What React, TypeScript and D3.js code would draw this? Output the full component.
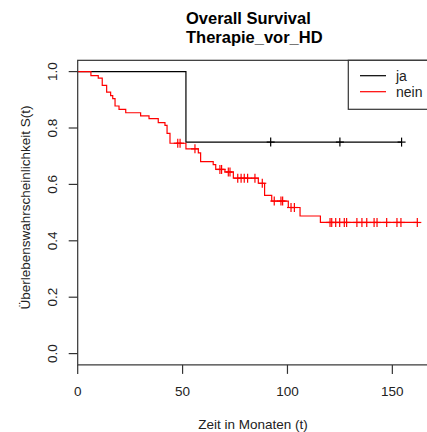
import React from 'react';
import * as d3 from 'd3';

const W = 427;
const H = 432;

// Gruppe "ja"
const jaEventTimes = [51.6];
const jaSurv = [0.75];
const jaCensorTimes = [92.0, 125.0, 154.4];

// Gruppe "nein"
const neinEventTimes = [6.3, 9.8, 11.7, 13.8, 15.7, 16.7, 17.8, 19.7, 22.9, 30.0, 34.0, 38.4, 41.6, 42.6, 44.0, 51.6, 57.5, 58.6, 64.6, 65.8, 70.2, 74.2, 86.1, 89.1, 92.5, 100.4, 106.0, 115.7];
const neinSurv = [0.986, 0.977, 0.951, 0.927, 0.915, 0.904, 0.878, 0.866, 0.854, 0.843, 0.833, 0.819, 0.809, 0.781, 0.746, 0.726, 0.712, 0.681, 0.670, 0.653, 0.644, 0.622, 0.604, 0.561, 0.541, 0.518, 0.488, 0.465];
const neinCensorTimes = [47.7, 48.8, 55.9, 67.8, 68.6, 71.8, 72.6, 76.3, 77.9, 79.4, 81.0, 84.5, 88.0, 93.7, 96.9, 97.7, 101.7, 103.3, 120.3, 121.1, 123.0, 124.9, 127.1, 128.2, 133.1, 135.5, 137.8, 141.3, 142.7, 147.3, 152.2, 154.1, 161.9];

const groups = [
  {name: 'ja', color: '#000000', times: jaEventTimes, surv: jaSurv, censor: jaCensorTimes},
  {name: 'nein', color: '#ff0000', times: neinEventTimes, surv: neinSurv, censor: neinCensorTimes},
];

const titleLines = ['Overall Survival', 'Therapie_vor_HD'];
const xLabel = 'Zeit in Monaten (t)';
const yLabel = 'Überlebenswahrscheinlichkeit S(t)';

const FONT = '"Liberation Sans", Arial, sans-serif';
const AXIS_COL = '#333';

export default function App() {
  const x = d3.scaleLinear().domain([0, 168]).range([77.7, 430.1]);
  const y = d3.scaleLinear().domain([0, 1]).range([353.6, 71.6]);
  const boxTop = y(1.04);
  const boxBottom = y(-0.04);
  const boxLeft = x(0);

  const survAt = (times: number[], surv: number[], t: number) => {
    const i = d3.bisectRight(times, t);
    return i === 0 ? 1 : surv[i - 1];
  };

  const line = d3.line<[number, number]>()
    .x(d => x(d[0]))
    .y(d => y(d[1]))
    .curve(d3.curveStepAfter);

  const xTicks = x.ticks(4).filter(v => v <= 160);
  const yTicks = y.ticks(5);
  const fmt = d3.format('.1f');
  const m = 4;

  return (
    <svg width={W} height={H} style={{position: 'absolute', left: 0, top: 0, background: '#fff'}} fontFamily={FONT}>
      <rect x={0} y={0} width={W} height={H} fill="#fff" />
      {/* Titel */}
      {titleLines.map((t, i) => (
        <text key={t} x={186} y={24 + i * 18.5} fontSize={16.5} fontWeight="bold" fill="#000">{t}</text>
      ))}

      {/* Kurven */}
      {groups.map(g => {
        const last = Math.max(g.times[g.times.length - 1], g.censor[g.censor.length - 1]);
        const pts: [number, number][] = [[0, 1], ...g.times.map((t, i) => [t, g.surv[i]] as [number, number]), [last, survAt(g.times, g.surv, last)]];
        return (
          <g key={g.name}>
            <path d={line(pts) || ''} fill="none" stroke={g.color} strokeWidth={1.2} />
            {g.censor.map((t, i) => {
              const cx = x(t);
              const cy = y(survAt(g.times, g.surv, t));
              return (
                <g key={i} stroke={g.color} strokeWidth={1.2}>
                  <line x1={cx - m} x2={cx + m} y1={cy} y2={cy} />
                  <line x1={cx} x2={cx} y1={cy - m - 0.5} y2={cy + m + 0.5} />
                </g>
              );
            })}
          </g>
        );
      })}

      {/* Rahmen */}
      <rect x={boxLeft} y={boxTop} width={W + 20 - boxLeft} height={boxBottom - boxTop} fill="none" stroke={AXIS_COL} strokeWidth={1.2} />

      {/* x-Achse */}
      {xTicks.map(v => (
        <g key={v}>
          <line x1={x(v)} x2={x(v)} y1={boxBottom} y2={boxBottom + 9} stroke={AXIS_COL} strokeWidth={1.2} />
          <text x={x(v)} y={396} fontSize={13.5} textAnchor="middle" fill="#222">{v}</text>
        </g>
      ))}
      <text x={253} y={429} fontSize={13.5} textAnchor="middle" fill="#222">{xLabel}</text>

      {/* y-Achse */}
      {yTicks.map(v => (
        <g key={v}>
          <line x1={boxLeft - 9} x2={boxLeft} y1={y(v)} y2={y(v)} stroke={AXIS_COL} strokeWidth={1.2} />
          <text transform={`translate(57,${y(v)}) rotate(-90)`} fontSize={13.5} textAnchor="middle" fill="#222">{fmt(v)}</text>
        </g>
      ))}
      <text transform={`translate(30,207.5) rotate(-90)`} fontSize={13.5} textAnchor="middle" fill="#222">{yLabel}</text>

      {/* Legende */}
      <rect x={348.3} y={boxTop} width={100} height={109.3 - boxTop} fill="#fff" stroke={AXIS_COL} strokeWidth={1.2} />
      {groups.map((g, i) => (
        <g key={g.name}>
          <line x1={360} x2={386} y1={75.7 + i * 16} y2={75.7 + i * 16} stroke={g.color} strokeWidth={1.2} />
          <text x={396} y={75.7 + i * 16} dy="0.35em" fontSize={14} fill="#222">{g.name}</text>
        </g>
      ))}
    </svg>
  );
}
